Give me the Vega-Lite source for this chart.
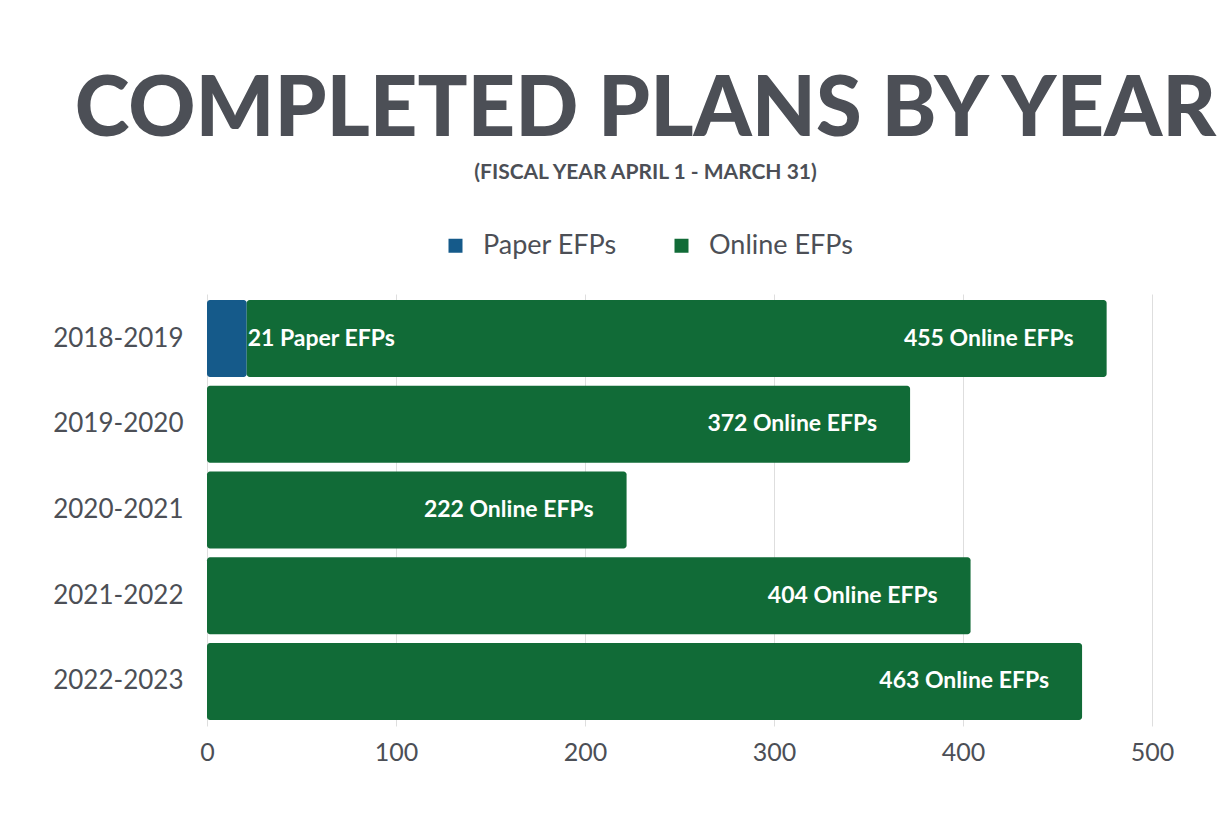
{
  "$schema": "https://vega.github.io/schema/vega-lite/v6.json",
  "width": 945,
  "height": 432,
  "autosize": {"type": "none"},
  "padding": {"left": 207, "top": 294, "right": 69, "bottom": 87},
  "background": "white",
  "config": {"view": {"stroke": null}},
  "title": {
    "text": "COMPLETED PLANS BY YEAR",
    "subtitle": "(FISCAL YEAR APRIL 1 - MARCH 31)",
    "anchor": "middle",
    "dx": -34,
    "font": "Lato",
    "fontSize": 83,
    "fontWeight": 900,
    "color": "#4c4f56",
    "subtitleFont": "Lato",
    "subtitleFontSize": 21,
    "subtitleFontWeight": "bold",
    "subtitleColor": "#4c4f56",
    "subtitlePadding": 9,
    "offset": 49
  },
  "data": {
    "values": [
      {"year": "2018-2019", "type": "Paper EFPs", "value": 21, "label": "21 Paper EFPs"},
      {"year": "2018-2019", "type": "Online EFPs", "value": 455, "label": "455 Online EFPs"},
      {"year": "2019-2020", "type": "Online EFPs", "value": 372, "label": "372 Online EFPs"},
      {"year": "2020-2021", "type": "Online EFPs", "value": 222, "label": "222 Online EFPs"},
      {"year": "2021-2022", "type": "Online EFPs", "value": 404, "label": "404 Online EFPs"},
      {"year": "2022-2023", "type": "Online EFPs", "value": 463, "label": "463 Online EFPs"}
    ]
  },
  "transform": [
    {"stack": "value", "groupby": ["year"], "sort": [{"field": "type", "order": "descending"}], "as": ["v0", "v1"]}
  ],
  "encoding": {
    "y": {
      "field": "year",
      "type": "nominal",
      "sort": ["2018-2019", "2019-2020", "2020-2021", "2021-2022", "2022-2023"],
      "scale": {"paddingInner": 0.102, "paddingOuter": 0.07},
      "axis": {
        "title": null,
        "domain": false,
        "ticks": false,
        "labelFont": "Lato",
        "labelFontSize": 26,
        "labelColor": "#4c4f56",
        "labelPadding": 24
      }
    }
  },
  "layer": [
    {
      "mark": {"type": "bar", "cornerRadiusEnd": 3},
      "encoding": {
        "x": {
          "field": "v0",
          "type": "quantitative",
          "scale": {"domain": [0, 500], "nice": false},
          "axis": {
            "title": null,
            "values": [0, 100, 200, 300, 400, 500],
            "domain": false,
            "ticks": false,
            "grid": true,
            "gridColor": "#dedede",
            "labelFlush": false,
            "labelFont": "Lato",
            "labelFontSize": 25,
            "labelColor": "#4c4f56",
            "labelPadding": 14
          }
        },
        "x2": {"field": "v1"},
        "color": {
          "field": "type",
          "type": "nominal",
          "scale": {"domain": ["Paper EFPs", "Online EFPs"], "range": ["#155a8a", "#116b37"]},
          "legend": {
            "title": null,
            "orient": "none",
            "direction": "horizontal",
            "legendX": 235,
            "legendY": -62,
            "symbolType": "square",
            "symbolSize": 196,
            "symbolStrokeWidth": 0,
            "labelFont": "Lato",
            "labelFontSize": 27,
            "labelColor": "#4c4f56",
            "labelOffset": 14,
            "columnPadding": 51
          }
        }
      }
    },
    {
      "transform": [{"filter": "datum.type === 'Paper EFPs'"}],
      "mark": {"type": "text", "align": "left", "baseline": "middle", "dx": 1, "font": "Lato", "fontWeight": "bold", "fontSize": 23, "color": "white"},
      "encoding": {
        "x": {"field": "v1", "type": "quantitative"},
        "text": {"field": "label"}
      }
    },
    {
      "transform": [{"filter": "datum.type === 'Online EFPs'"}],
      "mark": {"type": "text", "align": "right", "baseline": "middle", "dx": -33, "font": "Lato", "fontWeight": "bold", "fontSize": 23, "color": "white"},
      "encoding": {
        "x": {"field": "v1", "type": "quantitative"},
        "text": {"field": "label"}
      }
    }
  ]
}
